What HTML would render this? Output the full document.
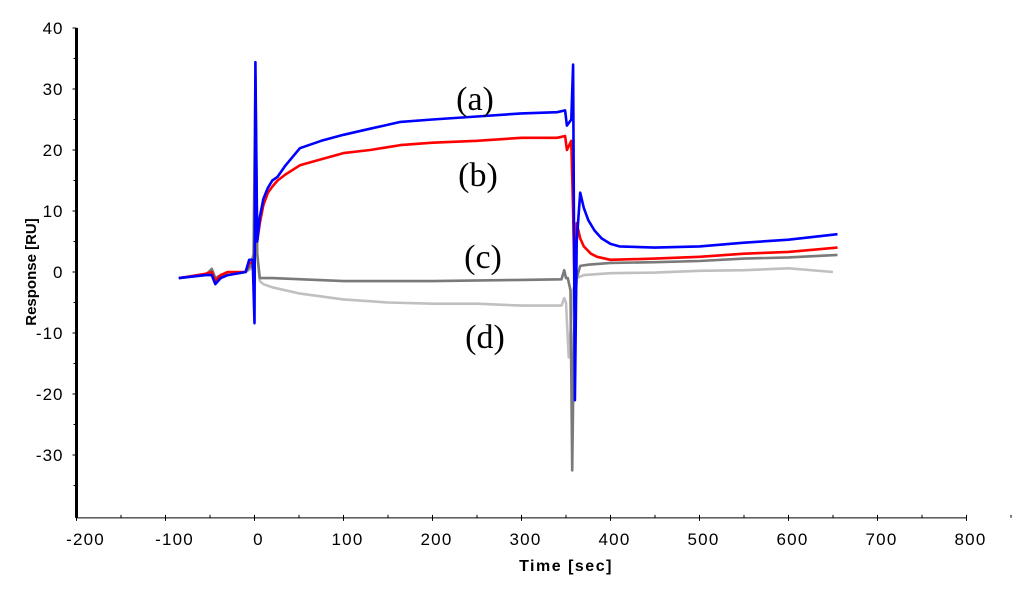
<!DOCTYPE html>
<html><head><meta charset="utf-8"><style>
html,body{margin:0;padding:0;background:#fff}
svg{display:block}
</style></head><body>
<svg id="chart" width="1024" height="590" viewBox="0 0 1024 590" xmlns="http://www.w3.org/2000/svg">
<g id="axes"></g>
<g id="series"></g>
<g id="labels" font-family="'Liberation Serif', serif" font-size="34" fill="#000">
<text x="475" y="110" text-anchor="middle">(a)</text>
<text x="478" y="186" text-anchor="middle">(b)</text>
<text x="483" y="268" text-anchor="middle">(c)</text>
<text x="485" y="348" text-anchor="middle">(d)</text>
</g>
<text x="36" y="272" transform="rotate(-90 36 272)" text-anchor="middle" font-family="'Liberation Sans', sans-serif" font-weight="bold" font-size="15">Response [RU]</text>
<text x="566" y="571" text-anchor="middle" font-family="'Liberation Sans', sans-serif" font-weight="bold" font-size="16" letter-spacing="1.5">Time [sec]</text>
</svg>
<script>
const xTicks=[-200,-100,0,100,200,300,400,500,600,700,800];
const yTicks=[40,30,20,10,0,-10,-20,-30];
const tA=[-85,-55,-48,-44,-38,-30,-10,-6,-2,0,1,3,6,10,15,20,26,35,51,75,100,130,164,200,250,300,340,349,351,356,358,360,362,366,370,375,382,390,400,410,450,500,550,600,655];
const vA=[-1,-0.5,-0.5,-2,-1,-0.5,0,2,2,-8.4,34.4,5,9,12,13.8,15,15.6,17.5,20.3,21.5,22.5,23.5,24.6,25,25.5,26,26.2,26.5,24,25,34,-21,5,13,10.5,8.5,6.8,5.5,4.6,4.2,4,4.2,4.8,5.3,6.2];
const tB=[-85,-55,-48,-44,-38,-30,-10,-6,-2,0,1,3,6,10,15,20,26,35,51,75,100,130,164,200,250,300,340,349,351,356,358,360,362,366,370,378,385,400,450,500,550,600,655];
const vB=[-1,-0.3,0,-1.5,-0.5,0,0,1.5,1.5,-2,20,5,8,11,13,14,15,16,17.5,18.5,19.5,20,20.8,21.2,21.5,22,22,22.3,20,21.5,10,-5,8,5.5,4.2,3,2.5,2,2.2,2.5,3,3.3,4];
const tC=[-85,-55,-48,-44,-38,-30,-10,-4,-1,1,3,6,10,20,100,200,300,345,348,350,352,355,357,359,362,366,375,400,450,500,550,600,655];
const vC=[-1,-0.5,0.5,-1,-0.5,-0.5,0,1,3,32,3,-1,-1,-1,-1.5,-1.5,-1.3,-1.2,0.3,-1,-1,-3,-32.5,-10,-1,1,1.2,1.5,1.6,1.8,2.2,2.4,2.8];
const tD=[-85,-55,-48,-44,-38,-30,-10,-4,-1,1,3,6,10,20,50,100,150,200,250,300,345,348,350,353,356,358,362,370,400,450,500,550,600,650];
const vD=[-1,-0.5,0.5,-1,-0.5,-0.5,0,0.5,2,30,3,-1.5,-2,-2.5,-3.5,-4.5,-5,-5.2,-5.2,-5.5,-5.5,-4.3,-5,-14,-8,-3,-1,-0.5,-0.2,-0.1,0.2,0.3,0.6,0];
const X=t=>254.5+t*0.89;
const Y=v=>272-v*6.1;
const NS='http://www.w3.org/2000/svg';
const axes=document.getElementById('axes');
function mk(tag,attrs,parent){const e=document.createElementNS(NS,tag);for(const k in attrs)e.setAttribute(k,attrs[k]);parent.appendChild(e);return e;}
let yl=mk('line',{x1:X(-200),y1:Y(40),x2:X(-200),y2:Y(-40.3),stroke:'#000','stroke-width':3},axes);


let xl=mk('line',{x1:X(-200),y1:Y(-40.3),x2:X(800),y2:Y(-40.3),stroke:'#000','stroke-width':1},axes);


const yb=Y(-40.3);
xTicks.forEach(t=>{
  let tk=mk('line',{x1:X(t),y1:yb-3,x2:X(t),y2:yb+3,stroke:'#000'},axes);
  
  
  let m=mk('line',{x1:X(t+50),y1:yb-3,x2:X(t+50),y2:yb,stroke:'#000'},axes);
  
  
  let tx=mk('text',{x:X(t)+(t<0?9:4),y:yb+27,'text-anchor':'middle','font-family':"'Liberation Sans', sans-serif",'font-size':17,'letter-spacing':1.2},axes);
  tx.textContent=t;
  
  
});
yTicks.forEach(v=>{
  let tk=mk('line',{x1:X(-200)-4,y1:Y(v),x2:X(-200),y2:Y(v),stroke:'#000'},axes);
  
  
  let m=mk('line',{x1:X(-200)-3,y1:Y(v-5),x2:X(-200),y2:Y(v-5),stroke:'#000'},axes);
  
  
  let tx=mk('text',{x:X(-200)-13,y:Y(v)+6,'text-anchor':'end','font-family':"'Liberation Sans', sans-serif",'font-size':17,'letter-spacing':1},axes);
  tx.textContent=v;
  
  
});
const sg=document.getElementById('series');
function line(ts,vs,color,name){
  const d=ts.map((t,i)=>(i?'L':'M')+X(t).toFixed(1)+','+Y(vs[i]).toFixed(1)).join(' ');
  const p=mk('path',{d:d,fill:'none',stroke:color,'stroke-width':2.6,'stroke-linejoin':'round'},sg);
  
  
}
line(tD,vD,'#c0c0c0','series-d');
line(tC,vC,'#7a7a7a','series-c');
line(tB,vB,'#ff0000','series-b');
line(tA,vA,'#0000ff','series-a');
</script>
</body></html>
